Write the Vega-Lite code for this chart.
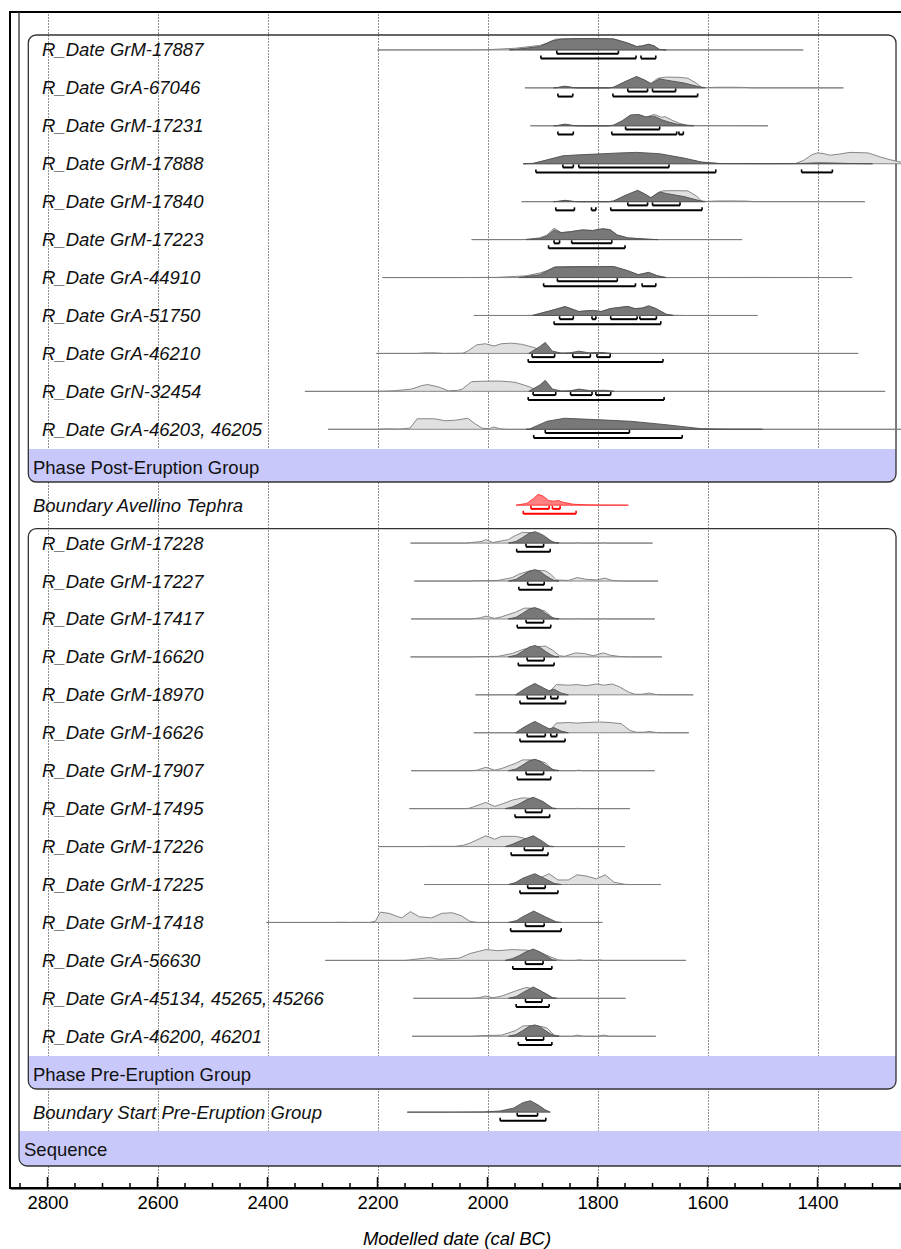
{
"$schema":"https://vega.github.io/schema/vega-lite/v6.json",
"width":893,"height":1176,
"autosize":{"type":"none"},
"padding":{"left":10,"top":12,"right":0,"bottom":61},
"background":"white",
"config":{"view":{"stroke":"#000","strokeWidth":2},"font":"Liberation Sans",
 "axisX":{"grid":true,"gridDash":[1,2],"gridColor":"#222","gridOpacity":1,"gridWidth":1,"ticks":false,"tickSize":0,"domain":true,"domainColor":"#000","domainWidth":2,"labelFontSize":18.5,"labelColor":"#000","labelFont":"Liberation Sans","labelPadding":5,"titleFont":"Liberation Sans","titleFontSize":18.5,"titleFontStyle":"italic","titleFontWeight":"normal","titleColor":"#000","titlePadding":18,"zindex":1}},
"datasets":{
"bands":[{"x1":2834.9,"x2":1257.3,"y1":11.52,"y2":12.39},{"x1":2834.9,"x2":1257.3,"y1":27.52,"y2":28.39},{"x1":2851.8,"x2":1230,"y1":29.5,"y2":30.42}],
"boxes":[{"x1":2834.9,"x2":1257.3,"y1":0.606,"y2":12.39},{"x1":2834.9,"x2":1257.3,"y1":13.62,"y2":28.39},{"x1":2851.8,"x2":1230,"y1":-1,"y2":30.42}],
"labels":[
{"r":1,"t":"R_Date GrM-17887","c":"R"},{"r":2,"t":"R_Date GrA-67046","c":"R"},{"r":3,"t":"R_Date GrM-17231","c":"R"},{"r":4,"t":"R_Date GrM-17888","c":"R"},{"r":5,"t":"R_Date GrM-17840","c":"R"},{"r":6,"t":"R_Date GrM-17223","c":"R"},{"r":7,"t":"R_Date GrA-44910","c":"R"},{"r":8,"t":"R_Date GrA-51750","c":"R"},{"r":9,"t":"R_Date GrA-46210","c":"R"},{"r":10,"t":"R_Date GrN-32454","c":"R"},{"r":11,"t":"R_Date GrA-46203, 46205","c":"R"},
{"r":12,"t":"Phase Post-Eruption Group","c":"P"},{"r":13,"t":"Boundary Avellino Tephra","c":"B"},
{"r":14,"t":"R_Date GrM-17228","c":"R"},{"r":15,"t":"R_Date GrM-17227","c":"R"},{"r":16,"t":"R_Date GrM-17417","c":"R"},{"r":17,"t":"R_Date GrM-16620","c":"R"},{"r":18,"t":"R_Date GrM-18970","c":"R"},{"r":19,"t":"R_Date GrM-16626","c":"R"},{"r":20,"t":"R_Date GrM-17907","c":"R"},{"r":21,"t":"R_Date GrM-17495","c":"R"},{"r":22,"t":"R_Date GrM-17226","c":"R"},{"r":23,"t":"R_Date GrM-17225","c":"R"},{"r":24,"t":"R_Date GrM-17418","c":"R"},{"r":25,"t":"R_Date GrA-56630","c":"R"},{"r":26,"t":"R_Date GrA-45134, 45265, 45266","c":"R"},{"r":27,"t":"R_Date GrA-46200, 46201","c":"R"},
{"r":28,"t":"Phase Pre-Eruption Group","c":"P"},{"r":29,"t":"Boundary Start Pre-Eruption Group","c":"B"},{"r":30,"t":"Sequence","c":"S"}],
"majors":[{"v":2800},{"v":2600},{"v":2400},{"v":2200},{"v":2000},{"v":1800},{"v":1600},{"v":1400}],
"minors":[{"v":2850},{"v":2750},{"v":2700},{"v":2650},{"v":2550},{"v":2500},{"v":2450},{"v":2350},{"v":2300},{"v":2250},{"v":2150},{"v":2100},{"v":2050},{"v":1950},{"v":1900},{"v":1850},{"v":1750},{"v":1700},{"v":1650},{"v":1550},{"v":1500},{"v":1450},{"v":1350},{"v":1300},{"v":1250}],
"bars":[
{"r":1,"l":1,"a":1874,"b":1762},{"r":1,"l":2,"a":1903,"b":1730},{"r":1,"l":2,"a":1721,"b":1694},
{"r":2,"l":1,"a":1745,"b":1709},{"r":2,"l":1,"a":1700,"b":1658},{"r":2,"l":2,"a":1872,"b":1845},{"r":2,"l":2,"a":1772,"b":1618},
{"r":3,"l":1,"a":1749,"b":1687},{"r":3,"l":2,"a":1872,"b":1844},{"r":3,"l":2,"a":1774,"b":1656},{"r":3,"l":2,"a":1652,"b":1644},
{"r":4,"l":1,"a":1863,"b":1844},{"r":4,"l":1,"a":1834,"b":1670},{"r":4,"l":2,"a":1912,"b":1585},{"r":4,"l":2,"a":1429,"b":1373},
{"r":5,"l":1,"a":1745,"b":1709},{"r":5,"l":1,"a":1700,"b":1650},{"r":5,"l":2,"a":1876,"b":1842},{"r":5,"l":2,"a":1811,"b":1803},{"r":5,"l":2,"a":1776,"b":1610},
{"r":6,"l":1,"a":1879,"b":1869},{"r":6,"l":1,"a":1847,"b":1774},{"r":6,"l":2,"a":1889,"b":1750},
{"r":7,"l":1,"a":1873,"b":1764},{"r":7,"l":2,"a":1898,"b":1731},{"r":7,"l":2,"a":1719,"b":1694},
{"r":8,"l":1,"a":1869,"b":1844},{"r":8,"l":1,"a":1810,"b":1803},{"r":8,"l":1,"a":1776,"b":1728},{"r":8,"l":1,"a":1723,"b":1693},{"r":8,"l":2,"a":1879,"b":1685},
{"r":9,"l":1,"a":1919,"b":1878},{"r":9,"l":1,"a":1845,"b":1813},{"r":9,"l":1,"a":1801,"b":1777},{"r":9,"l":2,"a":1926,"b":1681},
{"r":10,"l":1,"a":1917,"b":1876},{"r":10,"l":1,"a":1849,"b":1810},{"r":10,"l":1,"a":1803,"b":1776},{"r":10,"l":2,"a":1926,"b":1679},
{"r":11,"l":1,"a":1895,"b":1742},{"r":11,"l":2,"a":1916,"b":1646},
{"r":13,"l":1,"a":1921,"b":1888},{"r":13,"l":1,"a":1882,"b":1868},{"r":13,"l":2,"a":1935,"b":1839},
{"r":14,"l":1,"a":1930,"b":1898},{"r":14,"l":2,"a":1947,"b":1886},
{"r":15,"l":1,"a":1927,"b":1897},{"r":15,"l":2,"a":1943,"b":1883},
{"r":16,"l":1,"a":1930,"b":1898},{"r":16,"l":2,"a":1946,"b":1885},
{"r":17,"l":1,"a":1928,"b":1897},{"r":17,"l":2,"a":1944,"b":1879},
{"r":18,"l":1,"a":1928,"b":1895},{"r":18,"l":1,"a":1885,"b":1872},{"r":18,"l":2,"a":1941,"b":1858},
{"r":19,"l":1,"a":1928,"b":1895},{"r":19,"l":1,"a":1885,"b":1874},{"r":19,"l":2,"a":1941,"b":1859},
{"r":20,"l":1,"a":1930,"b":1898},{"r":20,"l":2,"a":1946,"b":1885},
{"r":21,"l":1,"a":1931,"b":1901},{"r":21,"l":2,"a":1950,"b":1887},
{"r":22,"l":1,"a":1933,"b":1899},{"r":22,"l":2,"a":1957,"b":1890},
{"r":23,"l":1,"a":1927,"b":1895},{"r":23,"l":2,"a":1941,"b":1872},
{"r":24,"l":1,"a":1931,"b":1897},{"r":24,"l":2,"a":1958,"b":1866},
{"r":25,"l":1,"a":1931,"b":1899},{"r":25,"l":2,"a":1954,"b":1883},
{"r":26,"l":1,"a":1931,"b":1901},{"r":26,"l":2,"a":1948,"b":1888},
{"r":27,"l":1,"a":1930,"b":1898},{"r":27,"l":2,"a":1944,"b":1883},
{"r":29,"l":1,"a":1946,"b":1909},{"r":29,"l":2,"a":1977,"b":1894}],
"curves":[
{"r":1,"k":"L","d":2200,"p":0},{"r":1,"k":"L","d":2026,"p":0},{"r":1,"k":"L","d":2000,"p":0.02},{"r":1,"k":"L","d":1949,"p":0.15},{"r":1,"k":"L","d":1905,"p":0.4},{"r":1,"k":"L","d":1892,"p":0.6},{"r":1,"k":"L","d":1876,"p":0.95},{"r":1,"k":"L","d":1866,"p":0.97},{"r":1,"k":"L","d":1834,"p":1},{"r":1,"k":"L","d":1803,"p":1},{"r":1,"k":"L","d":1771,"p":0.97},{"r":1,"k":"L","d":1745,"p":0.6},{"r":1,"k":"L","d":1729,"p":0.3},{"r":1,"k":"L","d":1719,"p":0.35},{"r":1,"k":"L","d":1707,"p":0.5},{"r":1,"k":"L","d":1697,"p":0.35},{"r":1,"k":"L","d":1688,"p":0.05},{"r":1,"k":"L","d":1675,"p":0},{"r":1,"k":"L","d":1426,"p":0},
{"r":1,"k":"P","d":1960,"p":0},{"r":1,"k":"P","d":1949,"p":0.05},{"r":1,"k":"P","d":1905,"p":0.3},{"r":1,"k":"P","d":1882,"p":0.8},{"r":1,"k":"P","d":1866,"p":0.95},{"r":1,"k":"P","d":1834,"p":1},{"r":1,"k":"P","d":1803,"p":1},{"r":1,"k":"P","d":1771,"p":0.97},{"r":1,"k":"P","d":1745,"p":0.6},{"r":1,"k":"P","d":1729,"p":0.3},{"r":1,"k":"P","d":1719,"p":0.35},{"r":1,"k":"P","d":1707,"p":0.5},{"r":1,"k":"P","d":1697,"p":0.35},{"r":1,"k":"P","d":1688,"p":0.05},{"r":1,"k":"P","d":1675,"p":0},
{"r":2,"k":"L","d":1932,"p":0},{"r":2,"k":"L","d":1880,"p":0},{"r":2,"k":"L","d":1873,"p":0.02},{"r":2,"k":"L","d":1860,"p":0.12},{"r":2,"k":"L","d":1844,"p":0.02},{"r":2,"k":"L","d":1835,"p":0},{"r":2,"k":"L","d":1780,"p":0},{"r":2,"k":"L","d":1771,"p":0.05},{"r":2,"k":"L","d":1750,"p":0.5},{"r":2,"k":"L","d":1729,"p":0.95},{"r":2,"k":"L","d":1715,"p":0.7},{"r":2,"k":"L","d":1703,"p":0.4},{"r":2,"k":"L","d":1690,"p":0.85},{"r":2,"k":"L","d":1675,"p":0.95},{"r":2,"k":"L","d":1650,"p":0.92},{"r":2,"k":"L","d":1636,"p":0.85},{"r":2,"k":"L","d":1620,"p":0.4},{"r":2,"k":"L","d":1611,"p":0.05},{"r":2,"k":"L","d":1600,"p":0.02},{"r":2,"k":"L","d":1585,"p":0.05},{"r":2,"k":"L","d":1560,"p":0.06},{"r":2,"k":"L","d":1534,"p":0.04},{"r":2,"k":"L","d":1520,"p":0},{"r":2,"k":"L","d":1353,"p":0},
{"r":2,"k":"P","d":1880,"p":0},{"r":2,"k":"P","d":1873,"p":0.03},{"r":2,"k":"P","d":1860,"p":0.15},{"r":2,"k":"P","d":1844,"p":0.03},{"r":2,"k":"P","d":1835,"p":0},{"r":2,"k":"P","d":1780,"p":0},{"r":2,"k":"P","d":1771,"p":0.05},{"r":2,"k":"P","d":1750,"p":0.55},{"r":2,"k":"P","d":1729,"p":1},{"r":2,"k":"P","d":1715,"p":0.7},{"r":2,"k":"P","d":1703,"p":0.35},{"r":2,"k":"P","d":1687,"p":0.8},{"r":2,"k":"P","d":1675,"p":0.68},{"r":2,"k":"P","d":1643,"p":0.43},{"r":2,"k":"P","d":1617,"p":0.12},{"r":2,"k":"P","d":1605,"p":0},
{"r":3,"k":"L","d":1922,"p":0},{"r":3,"k":"L","d":1880,"p":0},{"r":3,"k":"L","d":1873,"p":0.02},{"r":3,"k":"L","d":1859,"p":0.12},{"r":3,"k":"L","d":1844,"p":0.02},{"r":3,"k":"L","d":1835,"p":0},{"r":3,"k":"L","d":1780,"p":0},{"r":3,"k":"L","d":1771,"p":0.05},{"r":3,"k":"L","d":1755,"p":0.4},{"r":3,"k":"L","d":1740,"p":0.9},{"r":3,"k":"L","d":1725,"p":0.95},{"r":3,"k":"L","d":1712,"p":0.75},{"r":3,"k":"L","d":1697,"p":1},{"r":3,"k":"L","d":1684,"p":0.75},{"r":3,"k":"L","d":1677,"p":0.8},{"r":3,"k":"L","d":1665,"p":0.5},{"r":3,"k":"L","d":1650,"p":0.2},{"r":3,"k":"L","d":1636,"p":0.05},{"r":3,"k":"L","d":1620,"p":0.02},{"r":3,"k":"L","d":1560,"p":0.01},{"r":3,"k":"L","d":1490,"p":0},
{"r":3,"k":"P","d":1880,"p":0},{"r":3,"k":"P","d":1873,"p":0.02},{"r":3,"k":"P","d":1859,"p":0.15},{"r":3,"k":"P","d":1844,"p":0.02},{"r":3,"k":"P","d":1835,"p":0},{"r":3,"k":"P","d":1780,"p":0},{"r":3,"k":"P","d":1771,"p":0.05},{"r":3,"k":"P","d":1755,"p":0.45},{"r":3,"k":"P","d":1740,"p":0.95},{"r":3,"k":"P","d":1725,"p":1},{"r":3,"k":"P","d":1712,"p":0.78},{"r":3,"k":"P","d":1697,"p":0.85},{"r":3,"k":"P","d":1684,"p":0.55},{"r":3,"k":"P","d":1672,"p":0.35},{"r":3,"k":"P","d":1656,"p":0.15},{"r":3,"k":"P","d":1636,"p":0.03},{"r":3,"k":"P","d":1625,"p":0},
{"r":4,"k":"L","d":1935,"p":0},{"r":4,"k":"L","d":1917,"p":0.03},{"r":4,"k":"L","d":1895,"p":0.27},{"r":4,"k":"L","d":1863,"p":0.62},{"r":4,"k":"L","d":1835,"p":0.7},{"r":4,"k":"L","d":1803,"p":0.78},{"r":4,"k":"L","d":1760,"p":0.85},{"r":4,"k":"L","d":1729,"p":0.9},{"r":4,"k":"L","d":1687,"p":0.8},{"r":4,"k":"L","d":1643,"p":0.45},{"r":4,"k":"L","d":1611,"p":0.13},{"r":4,"k":"L","d":1579,"p":0.02},{"r":4,"k":"L","d":1450,"p":0.01},{"r":4,"k":"L","d":1440,"p":0.02},{"r":4,"k":"L","d":1425,"p":0.3},{"r":4,"k":"L","d":1410,"p":0.8},{"r":4,"k":"L","d":1400,"p":0.95},{"r":4,"k":"L","d":1390,"p":0.9},{"r":4,"k":"L","d":1377,"p":0.75},{"r":4,"k":"L","d":1360,"p":0.85},{"r":4,"k":"L","d":1341,"p":1},{"r":4,"k":"L","d":1308,"p":0.95},{"r":4,"k":"L","d":1286,"p":0.6},{"r":4,"k":"L","d":1268,"p":0.35},{"r":4,"k":"L","d":1254,"p":0.2},{"r":4,"k":"L","d":1240,"p":0.1},{"r":4,"k":"L","d":1220,"p":0},
{"r":4,"k":"P","d":1935,"p":0},{"r":4,"k":"P","d":1917,"p":0.03},{"r":4,"k":"P","d":1895,"p":0.3},{"r":4,"k":"P","d":1863,"p":0.7},{"r":4,"k":"P","d":1835,"p":0.78},{"r":4,"k":"P","d":1803,"p":0.85},{"r":4,"k":"P","d":1760,"p":0.95},{"r":4,"k":"P","d":1729,"p":1},{"r":4,"k":"P","d":1687,"p":0.88},{"r":4,"k":"P","d":1643,"p":0.5},{"r":4,"k":"P","d":1611,"p":0.15},{"r":4,"k":"P","d":1579,"p":0.02},{"r":4,"k":"P","d":1500,"p":0.01},{"r":4,"k":"P","d":1432,"p":0.02},{"r":4,"k":"P","d":1400,"p":0.08},{"r":4,"k":"P","d":1370,"p":0.06},{"r":4,"k":"P","d":1340,"p":0.02},{"r":4,"k":"P","d":1300,"p":0},
{"r":5,"k":"L","d":1938,"p":0},{"r":5,"k":"L","d":1880,"p":0},{"r":5,"k":"L","d":1873,"p":0.02},{"r":5,"k":"L","d":1859,"p":0.1},{"r":5,"k":"L","d":1844,"p":0.02},{"r":5,"k":"L","d":1835,"p":0},{"r":5,"k":"L","d":1780,"p":0},{"r":5,"k":"L","d":1771,"p":0.05},{"r":5,"k":"L","d":1750,"p":0.5},{"r":5,"k":"L","d":1727,"p":0.95},{"r":5,"k":"L","d":1715,"p":0.7},{"r":5,"k":"L","d":1703,"p":0.35},{"r":5,"k":"L","d":1690,"p":0.8},{"r":5,"k":"L","d":1681,"p":0.95},{"r":5,"k":"L","d":1660,"p":0.97},{"r":5,"k":"L","d":1636,"p":0.95},{"r":5,"k":"L","d":1620,"p":0.5},{"r":5,"k":"L","d":1611,"p":0.05},{"r":5,"k":"L","d":1600,"p":0.02},{"r":5,"k":"L","d":1585,"p":0.06},{"r":5,"k":"L","d":1560,"p":0.07},{"r":5,"k":"L","d":1528,"p":0.05},{"r":5,"k":"L","d":1515,"p":0},{"r":5,"k":"L","d":1314,"p":0},
{"r":5,"k":"P","d":1880,"p":0},{"r":5,"k":"P","d":1873,"p":0.02},{"r":5,"k":"P","d":1859,"p":0.12},{"r":5,"k":"P","d":1844,"p":0.02},{"r":5,"k":"P","d":1835,"p":0},{"r":5,"k":"P","d":1780,"p":0},{"r":5,"k":"P","d":1771,"p":0.05},{"r":5,"k":"P","d":1750,"p":0.55},{"r":5,"k":"P","d":1727,"p":1},{"r":5,"k":"P","d":1715,"p":0.7},{"r":5,"k":"P","d":1703,"p":0.35},{"r":5,"k":"P","d":1687,"p":0.85},{"r":5,"k":"P","d":1675,"p":0.72},{"r":5,"k":"P","d":1643,"p":0.45},{"r":5,"k":"P","d":1617,"p":0.12},{"r":5,"k":"P","d":1605,"p":0},
{"r":6,"k":"L","d":2029,"p":0},{"r":6,"k":"L","d":1940,"p":0},{"r":6,"k":"L","d":1930,"p":0.02},{"r":6,"k":"L","d":1905,"p":0.15},{"r":6,"k":"L","d":1892,"p":0.4},{"r":6,"k":"L","d":1879,"p":1},{"r":6,"k":"L","d":1866,"p":0.62},{"r":6,"k":"L","d":1847,"p":0.72},{"r":6,"k":"L","d":1828,"p":0.85},{"r":6,"k":"L","d":1809,"p":0.8},{"r":6,"k":"L","d":1790,"p":0.95},{"r":6,"k":"L","d":1777,"p":0.88},{"r":6,"k":"L","d":1764,"p":0.4},{"r":6,"k":"L","d":1745,"p":0.15},{"r":6,"k":"L","d":1707,"p":0.03},{"r":6,"k":"L","d":1690,"p":0},{"r":6,"k":"L","d":1537,"p":0},
{"r":6,"k":"P","d":1930,"p":0},{"r":6,"k":"P","d":1905,"p":0.1},{"r":6,"k":"P","d":1892,"p":0.3},{"r":6,"k":"P","d":1879,"p":0.85},{"r":6,"k":"P","d":1866,"p":0.6},{"r":6,"k":"P","d":1847,"p":0.7},{"r":6,"k":"P","d":1828,"p":0.85},{"r":6,"k":"P","d":1809,"p":0.8},{"r":6,"k":"P","d":1790,"p":0.95},{"r":6,"k":"P","d":1777,"p":0.85},{"r":6,"k":"P","d":1764,"p":0.4},{"r":6,"k":"P","d":1745,"p":0.15},{"r":6,"k":"P","d":1707,"p":0.03},{"r":6,"k":"P","d":1690,"p":0},
{"r":7,"k":"L","d":2191,"p":0},{"r":7,"k":"L","d":2050,"p":0},{"r":7,"k":"L","d":1981,"p":0.02},{"r":7,"k":"L","d":1930,"p":0.15},{"r":7,"k":"L","d":1905,"p":0.4},{"r":7,"k":"L","d":1892,"p":0.6},{"r":7,"k":"L","d":1876,"p":0.95},{"r":7,"k":"L","d":1834,"p":0.97},{"r":7,"k":"L","d":1803,"p":0.97},{"r":7,"k":"L","d":1771,"p":0.97},{"r":7,"k":"L","d":1745,"p":0.6},{"r":7,"k":"L","d":1726,"p":0.25},{"r":7,"k":"L","d":1707,"p":0.45},{"r":7,"k":"L","d":1691,"p":0.15},{"r":7,"k":"L","d":1675,"p":0},{"r":7,"k":"L","d":1509,"p":0.01},{"r":7,"k":"L","d":1337,"p":0},
{"r":7,"k":"P","d":1943,"p":0},{"r":7,"k":"P","d":1905,"p":0.25},{"r":7,"k":"P","d":1879,"p":0.9},{"r":7,"k":"P","d":1834,"p":0.95},{"r":7,"k":"P","d":1803,"p":0.95},{"r":7,"k":"P","d":1771,"p":0.97},{"r":7,"k":"P","d":1745,"p":0.6},{"r":7,"k":"P","d":1726,"p":0.25},{"r":7,"k":"P","d":1707,"p":0.45},{"r":7,"k":"P","d":1691,"p":0.15},{"r":7,"k":"P","d":1675,"p":0},
{"r":8,"k":"L","d":2025,"p":0},{"r":8,"k":"L","d":1930,"p":0},{"r":8,"k":"L","d":1918,"p":0.02},{"r":8,"k":"L","d":1879,"p":0.5},{"r":8,"k":"L","d":1859,"p":0.8},{"r":8,"k":"L","d":1834,"p":0.35},{"r":8,"k":"L","d":1809,"p":0.45},{"r":8,"k":"L","d":1793,"p":0.35},{"r":8,"k":"L","d":1777,"p":0.6},{"r":8,"k":"L","d":1745,"p":0.8},{"r":8,"k":"L","d":1732,"p":0.6},{"r":8,"k":"L","d":1719,"p":0.65},{"r":8,"k":"L","d":1707,"p":0.88},{"r":8,"k":"L","d":1694,"p":0.62},{"r":8,"k":"L","d":1675,"p":0.1},{"r":8,"k":"L","d":1662,"p":0.02},{"r":8,"k":"L","d":1640,"p":0},{"r":8,"k":"L","d":1509,"p":0},
{"r":8,"k":"P","d":1918,"p":0},{"r":8,"k":"P","d":1879,"p":0.5},{"r":8,"k":"P","d":1859,"p":0.77},{"r":8,"k":"P","d":1834,"p":0.35},{"r":8,"k":"P","d":1809,"p":0.45},{"r":8,"k":"P","d":1793,"p":0.35},{"r":8,"k":"P","d":1777,"p":0.6},{"r":8,"k":"P","d":1745,"p":0.8},{"r":8,"k":"P","d":1732,"p":0.6},{"r":8,"k":"P","d":1719,"p":0.65},{"r":8,"k":"P","d":1707,"p":0.8},{"r":8,"k":"P","d":1694,"p":0.6},{"r":8,"k":"P","d":1675,"p":0.1},{"r":8,"k":"P","d":1662,"p":0},
{"r":9,"k":"L","d":2202,"p":0},{"r":9,"k":"L","d":2130,"p":0},{"r":9,"k":"L","d":2112,"p":0.05},{"r":9,"k":"L","d":2096,"p":0.05},{"r":9,"k":"L","d":2080,"p":0},{"r":9,"k":"L","d":2045,"p":0.02},{"r":9,"k":"L","d":2036,"p":0.2},{"r":9,"k":"L","d":2020,"p":0.75},{"r":9,"k":"L","d":2004,"p":0.85},{"r":9,"k":"L","d":1988,"p":0.65},{"r":9,"k":"L","d":1975,"p":0.85},{"r":9,"k":"L","d":1956,"p":0.9},{"r":9,"k":"L","d":1937,"p":0.8},{"r":9,"k":"L","d":1918,"p":0.55},{"r":9,"k":"L","d":1902,"p":0.3},{"r":9,"k":"L","d":1879,"p":0.02},{"r":9,"k":"L","d":1860,"p":0},{"r":9,"k":"L","d":1326,"p":0},
{"r":9,"k":"P","d":1925,"p":0},{"r":9,"k":"P","d":1905,"p":0.6},{"r":9,"k":"P","d":1895,"p":0.97},{"r":9,"k":"P","d":1882,"p":0.2},{"r":9,"k":"P","d":1866,"p":0.03},{"r":9,"k":"P","d":1850,"p":0.05},{"r":9,"k":"P","d":1834,"p":0.2},{"r":9,"k":"P","d":1815,"p":0.05},{"r":9,"k":"P","d":1800,"p":0.08},{"r":9,"k":"P","d":1790,"p":0.08},{"r":9,"k":"P","d":1775,"p":0},
{"r":10,"k":"L","d":2332,"p":0},{"r":10,"k":"L","d":2200,"p":0},{"r":10,"k":"L","d":2192,"p":0.02},{"r":10,"k":"L","d":2170,"p":0.05},{"r":10,"k":"L","d":2138,"p":0.2},{"r":10,"k":"L","d":2120,"p":0.5},{"r":10,"k":"L","d":2109,"p":0.6},{"r":10,"k":"L","d":2090,"p":0.4},{"r":10,"k":"L","d":2071,"p":0.05},{"r":10,"k":"L","d":2055,"p":0.08},{"r":10,"k":"L","d":2046,"p":0.2},{"r":10,"k":"L","d":2029,"p":0.85},{"r":10,"k":"L","d":2001,"p":0.9},{"r":10,"k":"L","d":1975,"p":0.9},{"r":10,"k":"L","d":1950,"p":0.8},{"r":10,"k":"L","d":1930,"p":0.5},{"r":10,"k":"L","d":1911,"p":0.15},{"r":10,"k":"L","d":1886,"p":0.02},{"r":10,"k":"L","d":1870,"p":0},{"r":10,"k":"L","d":1277,"p":0},
{"r":10,"k":"P","d":1925,"p":0},{"r":10,"k":"P","d":1905,"p":0.55},{"r":10,"k":"P","d":1895,"p":0.97},{"r":10,"k":"P","d":1882,"p":0.2},{"r":10,"k":"P","d":1866,"p":0.03},{"r":10,"k":"P","d":1850,"p":0.05},{"r":10,"k":"P","d":1834,"p":0.2},{"r":10,"k":"P","d":1812,"p":0.05},{"r":10,"k":"P","d":1800,"p":0.08},{"r":10,"k":"P","d":1787,"p":0.1},{"r":10,"k":"P","d":1770,"p":0},
{"r":11,"k":"L","d":2290,"p":0},{"r":11,"k":"L","d":2200,"p":0},{"r":11,"k":"L","d":2186,"p":0.05},{"r":11,"k":"L","d":2160,"p":0.02},{"r":11,"k":"L","d":2141,"p":0.1},{"r":11,"k":"L","d":2128,"p":0.92},{"r":11,"k":"L","d":2110,"p":0.93},{"r":11,"k":"L","d":2096,"p":0.92},{"r":11,"k":"L","d":2077,"p":0.75},{"r":11,"k":"L","d":2058,"p":0.8},{"r":11,"k":"L","d":2036,"p":0.97},{"r":11,"k":"L","d":2023,"p":0.5},{"r":11,"k":"L","d":2010,"p":0.1},{"r":11,"k":"L","d":1997,"p":0.05},{"r":11,"k":"L","d":1988,"p":0.2},{"r":11,"k":"L","d":1978,"p":0.05},{"r":11,"k":"L","d":1965,"p":0},{"r":11,"k":"L","d":1240,"p":0},
{"r":11,"k":"P","d":1930,"p":0},{"r":11,"k":"P","d":1924,"p":0.02},{"r":11,"k":"P","d":1911,"p":0.3},{"r":11,"k":"P","d":1892,"p":0.7},{"r":11,"k":"P","d":1860,"p":0.97},{"r":11,"k":"P","d":1803,"p":0.85},{"r":11,"k":"P","d":1739,"p":0.7},{"r":11,"k":"P","d":1675,"p":0.4},{"r":11,"k":"P","d":1611,"p":0.05},{"r":11,"k":"P","d":1560,"p":0.01},{"r":11,"k":"P","d":1500,"p":0},
{"r":13,"k":"R","d":1948,"p":0},{"r":13,"k":"R","d":1929,"p":0.15},{"r":13,"k":"R","d":1917,"p":0.55},{"r":13,"k":"R","d":1908,"p":0.95},{"r":13,"k":"R","d":1899,"p":0.8},{"r":13,"k":"R","d":1889,"p":0.4},{"r":13,"k":"R","d":1880,"p":0.35},{"r":13,"k":"R","d":1871,"p":0.4},{"r":13,"k":"R","d":1862,"p":0.25},{"r":13,"k":"R","d":1844,"p":0.08},{"r":13,"k":"R","d":1820,"p":0.03},{"r":13,"k":"R","d":1796,"p":0.01},{"r":13,"k":"R","d":1744,"p":0},
{"r":14,"k":"L","d":2140,"p":0},{"r":14,"k":"L","d":2040,"p":0},{"r":14,"k":"L","d":2029,"p":0.05},{"r":14,"k":"L","d":2010,"p":0.15},{"r":14,"k":"L","d":2003,"p":0.3},{"r":14,"k":"L","d":1990,"p":0.05},{"r":14,"k":"L","d":1974,"p":0.2},{"r":14,"k":"L","d":1962,"p":0.3},{"r":14,"k":"L","d":1952,"p":0.6},{"r":14,"k":"L","d":1936,"p":0.95},{"r":14,"k":"L","d":1917,"p":0.9},{"r":14,"k":"L","d":1898,"p":0.7},{"r":14,"k":"L","d":1882,"p":0.1},{"r":14,"k":"L","d":1866,"p":0},{"r":14,"k":"L","d":1840,"p":0},{"r":14,"k":"L","d":1834,"p":0.03},{"r":14,"k":"L","d":1828,"p":0},{"r":14,"k":"L","d":1795,"p":0},{"r":14,"k":"L","d":1789,"p":0.03},{"r":14,"k":"L","d":1783,"p":0},{"r":14,"k":"L","d":1700,"p":0},
{"r":14,"k":"P","d":1962,"p":0},{"r":14,"k":"P","d":1948,"p":0.15},{"r":14,"k":"P","d":1936,"p":0.5},{"r":14,"k":"P","d":1925,"p":0.85},{"r":14,"k":"P","d":1914,"p":1},{"r":14,"k":"P","d":1905,"p":0.85},{"r":14,"k":"P","d":1895,"p":0.5},{"r":14,"k":"P","d":1885,"p":0.2},{"r":14,"k":"P","d":1878,"p":0.04},{"r":14,"k":"P","d":1870,"p":0},
{"r":15,"k":"L","d":2133,"p":0},{"r":15,"k":"L","d":2030,"p":0},{"r":15,"k":"L","d":2026,"p":0.02},{"r":15,"k":"L","d":1981,"p":0.05},{"r":15,"k":"L","d":1955,"p":0.3},{"r":15,"k":"L","d":1943,"p":0.6},{"r":15,"k":"L","d":1927,"p":0.85},{"r":15,"k":"L","d":1911,"p":0.95},{"r":15,"k":"L","d":1895,"p":0.9},{"r":15,"k":"L","d":1885,"p":0.6},{"r":15,"k":"L","d":1875,"p":0.1},{"r":15,"k":"L","d":1853,"p":0.05},{"r":15,"k":"L","d":1837,"p":0.3},{"r":15,"k":"L","d":1821,"p":0.15},{"r":15,"k":"L","d":1802,"p":0.1},{"r":15,"k":"L","d":1786,"p":0.25},{"r":15,"k":"L","d":1773,"p":0.05},{"r":15,"k":"L","d":1757,"p":0},{"r":15,"k":"L","d":1690,"p":0},
{"r":15,"k":"P","d":1962,"p":0},{"r":15,"k":"P","d":1948,"p":0.15},{"r":15,"k":"P","d":1936,"p":0.5},{"r":15,"k":"P","d":1925,"p":0.85},{"r":15,"k":"P","d":1914,"p":1},{"r":15,"k":"P","d":1905,"p":0.85},{"r":15,"k":"P","d":1895,"p":0.5},{"r":15,"k":"P","d":1885,"p":0.2},{"r":15,"k":"P","d":1878,"p":0.04},{"r":15,"k":"P","d":1870,"p":0},
{"r":16,"k":"L","d":2139,"p":0},{"r":16,"k":"L","d":2030,"p":0},{"r":16,"k":"L","d":2013,"p":0.1},{"r":16,"k":"L","d":2003,"p":0.25},{"r":16,"k":"L","d":1987,"p":0.05},{"r":16,"k":"L","d":1974,"p":0.2},{"r":16,"k":"L","d":1949,"p":0.6},{"r":16,"k":"L","d":1933,"p":0.95},{"r":16,"k":"L","d":1917,"p":0.95},{"r":16,"k":"L","d":1895,"p":0.7},{"r":16,"k":"L","d":1882,"p":0.1},{"r":16,"k":"L","d":1866,"p":0},{"r":16,"k":"L","d":1840,"p":0},{"r":16,"k":"L","d":1834,"p":0.03},{"r":16,"k":"L","d":1828,"p":0},{"r":16,"k":"L","d":1795,"p":0},{"r":16,"k":"L","d":1789,"p":0.03},{"r":16,"k":"L","d":1783,"p":0},{"r":16,"k":"L","d":1696,"p":0},
{"r":16,"k":"P","d":1962,"p":0},{"r":16,"k":"P","d":1948,"p":0.15},{"r":16,"k":"P","d":1936,"p":0.5},{"r":16,"k":"P","d":1925,"p":0.85},{"r":16,"k":"P","d":1914,"p":1},{"r":16,"k":"P","d":1905,"p":0.85},{"r":16,"k":"P","d":1895,"p":0.5},{"r":16,"k":"P","d":1885,"p":0.2},{"r":16,"k":"P","d":1878,"p":0.04},{"r":16,"k":"P","d":1870,"p":0},
{"r":17,"k":"L","d":2140,"p":0},{"r":17,"k":"L","d":2030,"p":0},{"r":17,"k":"L","d":2019,"p":0.02},{"r":17,"k":"L","d":1981,"p":0.05},{"r":17,"k":"L","d":1955,"p":0.3},{"r":17,"k":"L","d":1936,"p":0.65},{"r":17,"k":"L","d":1911,"p":0.9},{"r":17,"k":"L","d":1895,"p":0.95},{"r":17,"k":"L","d":1882,"p":0.6},{"r":17,"k":"L","d":1869,"p":0.1},{"r":17,"k":"L","d":1860,"p":0.05},{"r":17,"k":"L","d":1840,"p":0.35},{"r":17,"k":"L","d":1824,"p":0.3},{"r":17,"k":"L","d":1808,"p":0.1},{"r":17,"k":"L","d":1789,"p":0.35},{"r":17,"k":"L","d":1777,"p":0.15},{"r":17,"k":"L","d":1757,"p":0.02},{"r":17,"k":"L","d":1740,"p":0},{"r":17,"k":"L","d":1683,"p":0},
{"r":17,"k":"P","d":1962,"p":0},{"r":17,"k":"P","d":1948,"p":0.15},{"r":17,"k":"P","d":1936,"p":0.5},{"r":17,"k":"P","d":1925,"p":0.85},{"r":17,"k":"P","d":1914,"p":1},{"r":17,"k":"P","d":1905,"p":0.85},{"r":17,"k":"P","d":1895,"p":0.5},{"r":17,"k":"P","d":1885,"p":0.2},{"r":17,"k":"P","d":1878,"p":0.04},{"r":17,"k":"P","d":1870,"p":0},
{"r":18,"k":"L","d":2022,"p":0},{"r":18,"k":"L","d":1900,"p":0},{"r":18,"k":"L","d":1895,"p":0.05},{"r":18,"k":"L","d":1885,"p":0.4},{"r":18,"k":"L","d":1875,"p":0.9},{"r":18,"k":"L","d":1853,"p":0.85},{"r":18,"k":"L","d":1837,"p":0.9},{"r":18,"k":"L","d":1821,"p":0.8},{"r":18,"k":"L","d":1802,"p":0.95},{"r":18,"k":"L","d":1789,"p":0.85},{"r":18,"k":"L","d":1773,"p":0.95},{"r":18,"k":"L","d":1760,"p":0.7},{"r":18,"k":"L","d":1744,"p":0.25},{"r":18,"k":"L","d":1732,"p":0.05},{"r":18,"k":"L","d":1720,"p":0.05},{"r":18,"k":"L","d":1706,"p":0.15},{"r":18,"k":"L","d":1693,"p":0.02},{"r":18,"k":"L","d":1680,"p":0},{"r":18,"k":"L","d":1626,"p":0},
{"r":18,"k":"P","d":1949,"p":0},{"r":18,"k":"P","d":1940,"p":0.3},{"r":18,"k":"P","d":1930,"p":0.6},{"r":18,"k":"P","d":1914,"p":1},{"r":18,"k":"P","d":1898,"p":0.6},{"r":18,"k":"P","d":1888,"p":0.35},{"r":18,"k":"P","d":1879,"p":0.5},{"r":18,"k":"P","d":1866,"p":0.15},{"r":18,"k":"P","d":1853,"p":0},
{"r":19,"k":"L","d":2025,"p":0},{"r":19,"k":"L","d":1900,"p":0},{"r":19,"k":"L","d":1895,"p":0.05},{"r":19,"k":"L","d":1885,"p":0.3},{"r":19,"k":"L","d":1875,"p":0.85},{"r":19,"k":"L","d":1853,"p":0.9},{"r":19,"k":"L","d":1837,"p":0.85},{"r":19,"k":"L","d":1821,"p":0.9},{"r":19,"k":"L","d":1796,"p":0.95},{"r":19,"k":"L","d":1777,"p":0.9},{"r":19,"k":"L","d":1757,"p":0.8},{"r":19,"k":"L","d":1741,"p":0.2},{"r":19,"k":"L","d":1729,"p":0.05},{"r":19,"k":"L","d":1715,"p":0.05},{"r":19,"k":"L","d":1706,"p":0.12},{"r":19,"k":"L","d":1693,"p":0.02},{"r":19,"k":"L","d":1680,"p":0},{"r":19,"k":"L","d":1634,"p":0},
{"r":19,"k":"P","d":1949,"p":0},{"r":19,"k":"P","d":1940,"p":0.3},{"r":19,"k":"P","d":1930,"p":0.6},{"r":19,"k":"P","d":1914,"p":1},{"r":19,"k":"P","d":1898,"p":0.6},{"r":19,"k":"P","d":1888,"p":0.35},{"r":19,"k":"P","d":1879,"p":0.45},{"r":19,"k":"P","d":1866,"p":0.15},{"r":19,"k":"P","d":1853,"p":0},
{"r":20,"k":"L","d":2139,"p":0},{"r":20,"k":"L","d":2030,"p":0},{"r":20,"k":"L","d":2019,"p":0.05},{"r":20,"k":"L","d":2003,"p":0.3},{"r":20,"k":"L","d":1987,"p":0.05},{"r":20,"k":"L","d":1974,"p":0.2},{"r":20,"k":"L","d":1949,"p":0.65},{"r":20,"k":"L","d":1936,"p":0.95},{"r":20,"k":"L","d":1911,"p":0.95},{"r":20,"k":"L","d":1895,"p":0.7},{"r":20,"k":"L","d":1882,"p":0.1},{"r":20,"k":"L","d":1866,"p":0},{"r":20,"k":"L","d":1840,"p":0},{"r":20,"k":"L","d":1834,"p":0.05},{"r":20,"k":"L","d":1828,"p":0},{"r":20,"k":"L","d":1696,"p":0},
{"r":20,"k":"P","d":1962,"p":0},{"r":20,"k":"P","d":1948,"p":0.15},{"r":20,"k":"P","d":1936,"p":0.5},{"r":20,"k":"P","d":1925,"p":0.85},{"r":20,"k":"P","d":1914,"p":1},{"r":20,"k":"P","d":1905,"p":0.85},{"r":20,"k":"P","d":1895,"p":0.5},{"r":20,"k":"P","d":1885,"p":0.2},{"r":20,"k":"P","d":1878,"p":0.04},{"r":20,"k":"P","d":1870,"p":0},
{"r":21,"k":"L","d":2142,"p":0},{"r":21,"k":"L","d":2040,"p":0},{"r":21,"k":"L","d":2032,"p":0.05},{"r":21,"k":"L","d":2003,"p":0.55},{"r":21,"k":"L","d":1987,"p":0.2},{"r":21,"k":"L","d":1974,"p":0.4},{"r":21,"k":"L","d":1955,"p":0.75},{"r":21,"k":"L","d":1936,"p":0.95},{"r":21,"k":"L","d":1920,"p":0.9},{"r":21,"k":"L","d":1904,"p":0.6},{"r":21,"k":"L","d":1891,"p":0.35},{"r":21,"k":"L","d":1882,"p":0.05},{"r":21,"k":"L","d":1870,"p":0},{"r":21,"k":"L","d":1840,"p":0},{"r":21,"k":"L","d":1837,"p":0.03},{"r":21,"k":"L","d":1830,"p":0},{"r":21,"k":"L","d":1741,"p":0},
{"r":21,"k":"P","d":1968,"p":0},{"r":21,"k":"P","d":1955,"p":0.15},{"r":21,"k":"P","d":1943,"p":0.4},{"r":21,"k":"P","d":1930,"p":0.75},{"r":21,"k":"P","d":1917,"p":1},{"r":21,"k":"P","d":1907,"p":0.8},{"r":21,"k":"P","d":1898,"p":0.6},{"r":21,"k":"P","d":1890,"p":0.3},{"r":21,"k":"P","d":1882,"p":0.05},{"r":21,"k":"P","d":1875,"p":0},
{"r":22,"k":"L","d":2198,"p":0},{"r":22,"k":"L","d":2120,"p":0},{"r":22,"k":"L","d":2109,"p":0.02},{"r":22,"k":"L","d":2060,"p":0.02},{"r":22,"k":"L","d":2045,"p":0.1},{"r":22,"k":"L","d":2032,"p":0.3},{"r":22,"k":"L","d":2003,"p":0.95},{"r":22,"k":"L","d":1987,"p":0.65},{"r":22,"k":"L","d":1974,"p":0.9},{"r":22,"k":"L","d":1949,"p":0.9},{"r":22,"k":"L","d":1930,"p":0.7},{"r":22,"k":"L","d":1911,"p":0.35},{"r":22,"k":"L","d":1895,"p":0.1},{"r":22,"k":"L","d":1885,"p":0},{"r":22,"k":"L","d":1750,"p":0},
{"r":22,"k":"P","d":1968,"p":0},{"r":22,"k":"P","d":1955,"p":0.2},{"r":22,"k":"P","d":1936,"p":0.6},{"r":22,"k":"P","d":1917,"p":0.95},{"r":22,"k":"P","d":1901,"p":0.5},{"r":22,"k":"P","d":1888,"p":0.05},{"r":22,"k":"P","d":1880,"p":0},
{"r":23,"k":"L","d":2115,"p":0},{"r":23,"k":"L","d":1960,"p":0},{"r":23,"k":"L","d":1949,"p":0.05},{"r":23,"k":"L","d":1923,"p":0.4},{"r":23,"k":"L","d":1904,"p":0.6},{"r":23,"k":"L","d":1888,"p":0.95},{"r":23,"k":"L","d":1872,"p":0.4},{"r":23,"k":"L","d":1853,"p":0.4},{"r":23,"k":"L","d":1837,"p":0.85},{"r":23,"k":"L","d":1821,"p":0.75},{"r":23,"k":"L","d":1802,"p":0.5},{"r":23,"k":"L","d":1786,"p":0.85},{"r":23,"k":"L","d":1770,"p":0.2},{"r":23,"k":"L","d":1751,"p":0.02},{"r":23,"k":"L","d":1740,"p":0},{"r":23,"k":"L","d":1685,"p":0},
{"r":23,"k":"P","d":1962,"p":0},{"r":23,"k":"P","d":1950,"p":0.15},{"r":23,"k":"P","d":1936,"p":0.55},{"r":23,"k":"P","d":1914,"p":0.95},{"r":23,"k":"P","d":1895,"p":0.5},{"r":23,"k":"P","d":1879,"p":0.1},{"r":23,"k":"P","d":1866,"p":0},
{"r":24,"k":"L","d":2402,"p":0},{"r":24,"k":"L","d":2280,"p":0},{"r":24,"k":"L","d":2268,"p":0.02},{"r":24,"k":"L","d":2250,"p":0},{"r":24,"k":"L","d":2236,"p":0.01},{"r":24,"k":"L","d":2215,"p":0},{"r":24,"k":"L","d":2204,"p":0.1},{"r":24,"k":"L","d":2195,"p":0.9},{"r":24,"k":"L","d":2179,"p":0.8},{"r":24,"k":"L","d":2165,"p":0.55},{"r":24,"k":"L","d":2156,"p":0.4},{"r":24,"k":"L","d":2140,"p":0.95},{"r":24,"k":"L","d":2124,"p":0.5},{"r":24,"k":"L","d":2102,"p":0.4},{"r":24,"k":"L","d":2083,"p":0.8},{"r":24,"k":"L","d":2064,"p":0.85},{"r":24,"k":"L","d":2048,"p":0.6},{"r":24,"k":"L","d":2032,"p":0.1},{"r":24,"k":"L","d":2019,"p":0},{"r":24,"k":"L","d":1791,"p":0},
{"r":24,"k":"P","d":1962,"p":0},{"r":24,"k":"P","d":1948,"p":0.15},{"r":24,"k":"P","d":1936,"p":0.5},{"r":24,"k":"P","d":1916,"p":1},{"r":24,"k":"P","d":1895,"p":0.5},{"r":24,"k":"P","d":1875,"p":0.05},{"r":24,"k":"P","d":1866,"p":0},
{"r":25,"k":"L","d":2295,"p":0},{"r":25,"k":"L","d":2150,"p":0},{"r":25,"k":"L","d":2140,"p":0.05},{"r":25,"k":"L","d":2105,"p":0.25},{"r":25,"k":"L","d":2089,"p":0.1},{"r":25,"k":"L","d":2051,"p":0.2},{"r":25,"k":"L","d":2032,"p":0.6},{"r":25,"k":"L","d":2003,"p":0.95},{"r":25,"k":"L","d":1981,"p":0.85},{"r":25,"k":"L","d":1955,"p":0.95},{"r":25,"k":"L","d":1930,"p":0.9},{"r":25,"k":"L","d":1904,"p":0.7},{"r":25,"k":"L","d":1885,"p":0.3},{"r":25,"k":"L","d":1872,"p":0.05},{"r":25,"k":"L","d":1860,"p":0},{"r":25,"k":"L","d":1840,"p":0},{"r":25,"k":"L","d":1834,"p":0.05},{"r":25,"k":"L","d":1825,"p":0},{"r":25,"k":"L","d":1800,"p":0},{"r":25,"k":"L","d":1796,"p":0.05},{"r":25,"k":"L","d":1790,"p":0},{"r":25,"k":"L","d":1639,"p":0},
{"r":25,"k":"P","d":1968,"p":0},{"r":25,"k":"P","d":1955,"p":0.15},{"r":25,"k":"P","d":1943,"p":0.4},{"r":25,"k":"P","d":1930,"p":0.75},{"r":25,"k":"P","d":1917,"p":1},{"r":25,"k":"P","d":1905,"p":0.75},{"r":25,"k":"P","d":1895,"p":0.45},{"r":25,"k":"P","d":1882,"p":0.05},{"r":25,"k":"P","d":1875,"p":0},
{"r":26,"k":"L","d":2135,"p":0},{"r":26,"k":"L","d":2030,"p":0},{"r":26,"k":"L","d":2016,"p":0.05},{"r":26,"k":"L","d":2003,"p":0.2},{"r":26,"k":"L","d":1990,"p":0.05},{"r":26,"k":"L","d":1974,"p":0.2},{"r":26,"k":"L","d":1949,"p":0.65},{"r":26,"k":"L","d":1930,"p":0.95},{"r":26,"k":"L","d":1911,"p":0.8},{"r":26,"k":"L","d":1891,"p":0.35},{"r":26,"k":"L","d":1882,"p":0.05},{"r":26,"k":"L","d":1870,"p":0},{"r":26,"k":"L","d":1749,"p":0},
{"r":26,"k":"P","d":1962,"p":0},{"r":26,"k":"P","d":1948,"p":0.15},{"r":26,"k":"P","d":1936,"p":0.5},{"r":26,"k":"P","d":1917,"p":1},{"r":26,"k":"P","d":1905,"p":0.7},{"r":26,"k":"P","d":1891,"p":0.3},{"r":26,"k":"P","d":1882,"p":0.05},{"r":26,"k":"P","d":1875,"p":0},
{"r":27,"k":"L","d":2137,"p":0},{"r":27,"k":"L","d":2030,"p":0},{"r":27,"k":"L","d":2013,"p":0.05},{"r":27,"k":"L","d":1974,"p":0.1},{"r":27,"k":"L","d":1949,"p":0.5},{"r":27,"k":"L","d":1936,"p":0.9},{"r":27,"k":"L","d":1917,"p":0.95},{"r":27,"k":"L","d":1901,"p":0.85},{"r":27,"k":"L","d":1891,"p":0.7},{"r":27,"k":"L","d":1879,"p":0.1},{"r":27,"k":"L","d":1866,"p":0},{"r":27,"k":"L","d":1845,"p":0},{"r":27,"k":"L","d":1837,"p":0.1},{"r":27,"k":"L","d":1825,"p":0},{"r":27,"k":"L","d":1800,"p":0},{"r":27,"k":"L","d":1789,"p":0.1},{"r":27,"k":"L","d":1778,"p":0},{"r":27,"k":"L","d":1694,"p":0},
{"r":27,"k":"P","d":1962,"p":0},{"r":27,"k":"P","d":1948,"p":0.15},{"r":27,"k":"P","d":1936,"p":0.5},{"r":27,"k":"P","d":1925,"p":0.85},{"r":27,"k":"P","d":1914,"p":1},{"r":27,"k":"P","d":1905,"p":0.85},{"r":27,"k":"P","d":1895,"p":0.5},{"r":27,"k":"P","d":1885,"p":0.2},{"r":27,"k":"P","d":1878,"p":0.04},{"r":27,"k":"P","d":1870,"p":0},
{"r":29,"k":"P","d":2146,"p":0},{"r":29,"k":"P","d":2060,"p":0},{"r":29,"k":"P","d":2007,"p":0.02},{"r":29,"k":"P","d":1977,"p":0.1},{"r":29,"k":"P","d":1953,"p":0.35},{"r":29,"k":"P","d":1935,"p":0.85},{"r":29,"k":"P","d":1922,"p":1},{"r":29,"k":"P","d":1907,"p":0.6},{"r":29,"k":"P","d":1895,"p":0.2},{"r":29,"k":"P","d":1886,"p":0}]
},
"layer":[
{"data":{"name":"bands"},
 "mark":{"type":"rect","fill":"#c8c8fa","cornerRadiusBottomLeft":8,"cornerRadiusBottomRight":8,"clip":true},
 "encoding":{
  "x":{"field":"x1","type":"quantitative","scale":{"domain":[1244.6,2868.2],"reverse":true,"nice":false,"zero":false},"title":"Modelled date (cal BC)",
   "axis":{"values":[2800,2600,2400,2200,2000,1800,1600,1400],"format":"d","title":"Modelled date (cal BC)"}},
  "x2":{"field":"x2"},
  "y":{"field":"y1","type":"quantitative","scale":{"domain":[0,31],"reverse":true,"nice":false,"zero":false},"axis":null},
  "y2":{"field":"y2"}}},
{"data":{"name":"boxes"},
 "mark":{"type":"rect","filled":false,"stroke":"#333","strokeWidth":1.3,"cornerRadius":8,"clip":true},
 "encoding":{
  "x":{"field":"x1","type":"quantitative","scale":{"domain":[1244.6,2868.2],"reverse":true,"nice":false,"zero":false},"title":"Modelled date (cal BC)"},
  "x2":{"field":"x2"},
  "y":{"field":"y1","type":"quantitative","scale":{"domain":[0,31],"reverse":true,"nice":false,"zero":false},"axis":null},
  "y2":{"field":"y2"}}},
{"data":{"name":"curves"},
 "transform":[{"filter":"datum.k == 'L'"},{"calculate":"datum.r - 0.3*datum.p","as":"top"}],
 "mark":{"type":"area","fill":"#e0e0e0","fillOpacity":1,"stroke":"#7a7a7a","strokeWidth":0.9},
 "encoding":{
  "x":{"field":"d","type":"quantitative","scale":{"domain":[1244.6,2868.2],"reverse":true,"nice":false,"zero":false},"title":"Modelled date (cal BC)"},
  "y":{"field":"top","type":"quantitative","scale":{"domain":[0,31],"reverse":true,"nice":false,"zero":false},"axis":null},
  "y2":{"field":"r"},
  "detail":{"field":"r"}}},
{"data":{"name":"curves"},
 "transform":[{"filter":"datum.k == 'P'"},{"calculate":"datum.r - 0.3*datum.p","as":"top"}],
 "mark":{"type":"area","fill":"#787878","fillOpacity":1,"stroke":"#505050","strokeWidth":0.9},
 "encoding":{
  "x":{"field":"d","type":"quantitative","scale":{"domain":[1244.6,2868.2],"reverse":true,"nice":false,"zero":false},"title":"Modelled date (cal BC)"},
  "y":{"field":"top","type":"quantitative","scale":{"domain":[0,31],"reverse":true,"nice":false,"zero":false},"axis":null},
  "y2":{"field":"r"},
  "detail":{"field":"r"}}},
{"data":{"name":"curves"},
 "transform":[{"filter":"datum.k == 'R'"},{"calculate":"datum.r - 0.3*datum.p","as":"top"}],
 "mark":{"type":"area","fill":"#ff8080","fillOpacity":1,"stroke":"#ff3030","strokeWidth":0.9},
 "encoding":{
  "x":{"field":"d","type":"quantitative","scale":{"domain":[1244.6,2868.2],"reverse":true,"nice":false,"zero":false},"title":"Modelled date (cal BC)"},
  "y":{"field":"top","type":"quantitative","scale":{"domain":[0,31],"reverse":true,"nice":false,"zero":false},"axis":null},
  "y2":{"field":"r"},
  "detail":{"field":"r"}}},
{"data":{"name":"bars"},
 "transform":[{"calculate":"datum.r + (datum.l == 1 ? 0.098 : 0.229)","as":"yb"}],
 "mark":{"type":"rule","strokeWidth":2},
 "encoding":{
  "x":{"field":"a","type":"quantitative","scale":{"domain":[1244.6,2868.2],"reverse":true,"nice":false,"zero":false},"title":"Modelled date (cal BC)"},
  "x2":{"field":"b"},
  "y":{"field":"yb","type":"quantitative","scale":{"domain":[0,31],"reverse":true,"nice":false,"zero":false},"axis":null},
  "color":{"condition":{"test":"datum.r == 13","value":"#ff0000"},"value":"#000000"}}},
{"data":{"name":"bars"},
 "transform":[{"calculate":"datum.r + (datum.l == 1 ? 0.098 : 0.229)","as":"yb"},{"calculate":"datum.yb - 0.08","as":"yt"},{"fold":["a","b"],"as":["e","d"]}],
 "mark":{"type":"rule","strokeWidth":1.6},
 "encoding":{
  "x":{"field":"d","type":"quantitative","scale":{"domain":[1244.6,2868.2],"reverse":true,"nice":false,"zero":false},"title":"Modelled date (cal BC)"},
  "y":{"field":"yb","type":"quantitative","scale":{"domain":[0,31],"reverse":true,"nice":false,"zero":false},"axis":null},
  "y2":{"field":"yt"},
  "color":{"condition":{"test":"datum.r == 13","value":"#ff0000"},"value":"#000000"}}},
{"data":{"name":"labels"},
 "transform":[{"filter":"datum.c == 'R'"}],
 "mark":{"type":"text","align":"left","baseline":"alphabetic","dy":6.5,"fontSize":18.5,"fontStyle":"italic","font":"Liberation Sans","color":"#111"},
 "encoding":{
  "x":{"datum":2810,"type":"quantitative","scale":{"domain":[1244.6,2868.2],"reverse":true,"nice":false,"zero":false},"title":"Modelled date (cal BC)"},
  "y":{"field":"r","type":"quantitative","scale":{"domain":[0,31],"reverse":true,"nice":false,"zero":false},"axis":null},
  "text":{"field":"t"}}},
{"data":{"name":"labels"},
 "transform":[{"filter":"datum.c == 'B'"}],
 "mark":{"type":"text","align":"left","baseline":"alphabetic","dy":6.5,"fontSize":18.5,"fontStyle":"italic","font":"Liberation Sans","color":"#111"},
 "encoding":{
  "x":{"datum":2826.4,"type":"quantitative","scale":{"domain":[1244.6,2868.2],"reverse":true,"nice":false,"zero":false},"title":"Modelled date (cal BC)"},
  "y":{"field":"r","type":"quantitative","scale":{"domain":[0,31],"reverse":true,"nice":false,"zero":false},"axis":null},
  "text":{"field":"t"}}},
{"data":{"name":"labels"},
 "transform":[{"filter":"datum.c == 'P'"}],
 "mark":{"type":"text","align":"left","baseline":"alphabetic","dy":6.5,"fontSize":18.5,"font":"Liberation Sans","color":"#111"},
 "encoding":{
  "x":{"datum":2826.4,"type":"quantitative","scale":{"domain":[1244.6,2868.2],"reverse":true,"nice":false,"zero":false},"title":"Modelled date (cal BC)"},
  "y":{"field":"r","type":"quantitative","scale":{"domain":[0,31],"reverse":true,"nice":false,"zero":false},"axis":null},
  "text":{"field":"t"}}},
{"data":{"name":"labels"},
 "transform":[{"filter":"datum.c == 'S'"}],
 "mark":{"type":"text","align":"left","baseline":"alphabetic","dy":6,"fontSize":18.5,"font":"Liberation Sans","color":"#111"},
 "encoding":{
  "x":{"datum":2842.7,"type":"quantitative","scale":{"domain":[1244.6,2868.2],"reverse":true,"nice":false,"zero":false},"title":"Modelled date (cal BC)"},
  "y":{"field":"r","type":"quantitative","scale":{"domain":[0,31],"reverse":true,"nice":false,"zero":false},"axis":null},
  "text":{"field":"t"}}},
{"data":{"name":"majors"},
 "mark":{"type":"rule","strokeWidth":1.5,"color":"#000"},
 "encoding":{
  "x":{"field":"v","type":"quantitative","scale":{"domain":[1244.6,2868.2],"reverse":true,"nice":false,"zero":false},"title":"Modelled date (cal BC)"},
  "y":{"datum":31,"type":"quantitative","scale":{"domain":[0,31],"reverse":true,"nice":false,"zero":false},"axis":null},
  "y2":{"datum":30.71}}},
{"data":{"name":"minors"},
 "mark":{"type":"rule","strokeWidth":1.5,"color":"#000"},
 "encoding":{
  "x":{"field":"v","type":"quantitative","scale":{"domain":[1244.6,2868.2],"reverse":true,"nice":false,"zero":false},"title":"Modelled date (cal BC)"},
  "y":{"datum":31,"type":"quantitative","scale":{"domain":[0,31],"reverse":true,"nice":false,"zero":false},"axis":null},
  "y2":{"datum":30.868}}}
]
}
